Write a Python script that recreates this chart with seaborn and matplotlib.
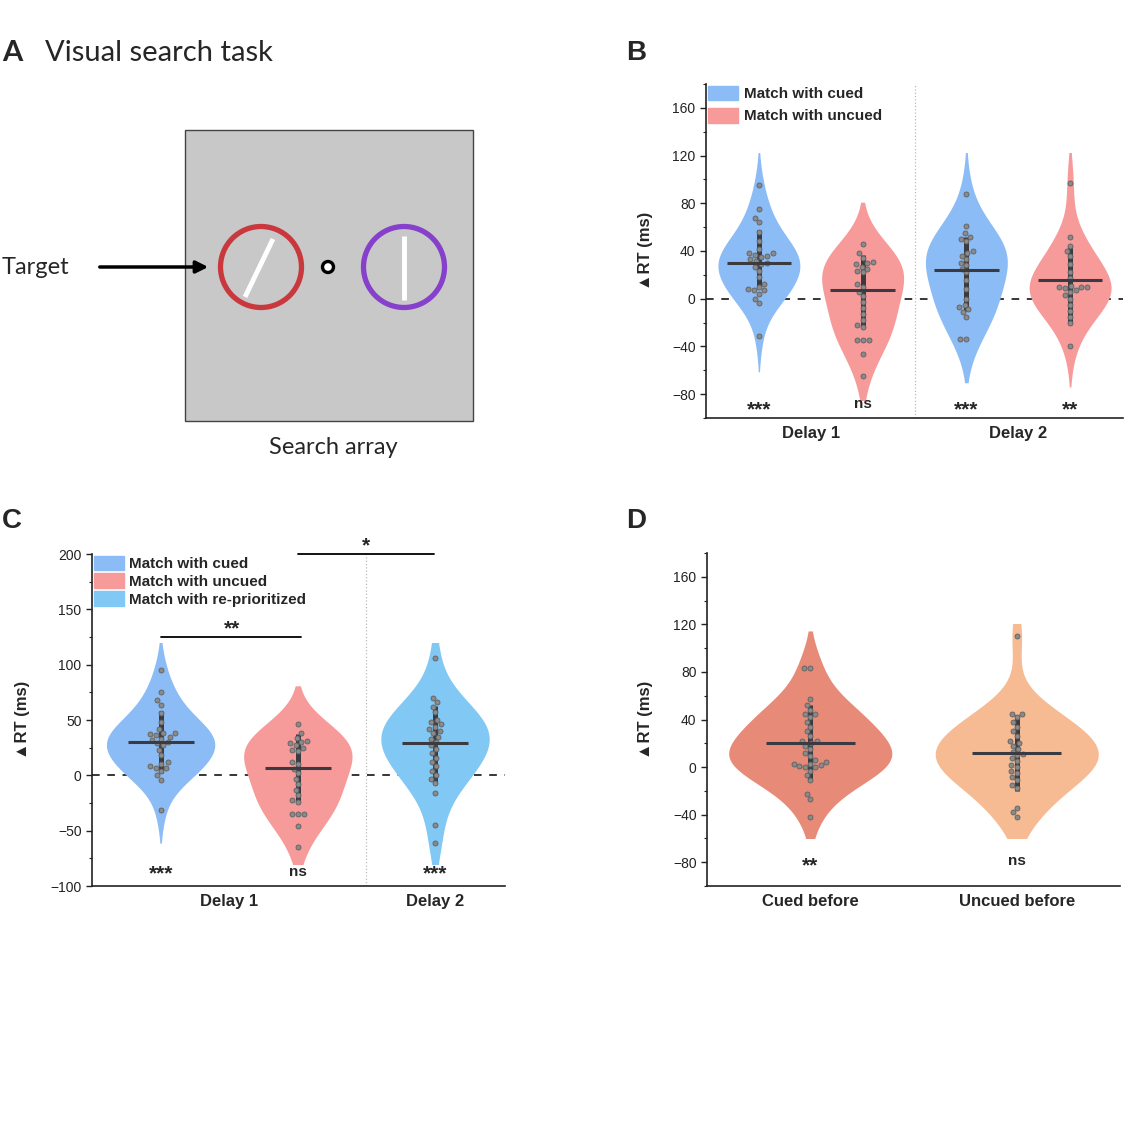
import numpy as np
import pandas as pd
import matplotlib
matplotlib.use('Agg')
import matplotlib.pyplot as plt
import seaborn as sns
from matplotlib.patches import Patch, Rectangle, Circle

sns.set_style('ticks')
plt.rcParams['font.family'] = ['Liberation Sans', 'DejaVu Sans']

# ---- Panel B: delta RT per condition (ms)
b_groups = ['D1 cued', 'D1 uncued', 'D2 cued', 'D2 uncued']
d1_cued = [95, 75, 68, 64, 56, 48, 42, 38, 38, 37, 36, 35, 33, 32, 30, 29, 27, 23, 18, 12, 10, 8, 7, 7, 4, 0, -4, -31]
d1_uncued = [46, 38, 34, 31, 30, 29, 27, 25, 23, 22, 12, 10, 6, 2, -3, -8, -13, -18, -22, -24, -35, -35, -35, -46, -65]
d2_cued = [88, 61, 55, 52, 50, 48, 40, 38, 36, 33, 30, 28, 25, 22, 16, 8, 0, -5, -7, -9, -11, -15, -34, -34]
d2_uncued = [97, 52, 44, 40, 36, 29, 22, 17, 11, 10, 10, 10, 9, 7, 6, 3, 0, -5, -10, -15, -20, -40]
b_means = [30, 7, 24, 16]
b_bar_lo = [10, -24, -10, -20]
b_bar_hi = [58, 37, 52, 44]
b_sig = ['***', 'ns', '***', '**']
b_sig_y = [-93, -88, -93, -93]
b_xlabels = ['Delay 1', 'Delay 2']

# ---- Panel C
c_groups = ['cued', 'uncued', 're-prioritized']
d2_reprio = [106, 70, 66, 62, 57, 50, 48, 46, 44, 42, 40, 38, 35, 33, 30, 27, 24, 20, 16, 12, 8, 4, 0, -3, -7, -16, -45, -61]
c_means = [30, 7, 29]
c_bar_lo = [2, -24, -7]
c_bar_hi = [58, 37, 63]
c_sig = ['***', 'ns', '***']
c_sig_y = [-89, -87, -89]
c_xlabels = ['Delay 1', 'Delay 2']

# ---- Panel D
d_groups = ['Cued before', 'Uncued before']
cued_before = [83, 83, 57, 52, 48, 45, 45, 42, 38, 34, 30, 26, 22, 22, 20, 18, 15, 12, 9, 6, 4, 3, 3, 2, 1, 0, 0, -3, -7, -11, -23, -27, -42]
uncued_before = [110, 45, 45, 42, 38, 34, 30, 26, 22, 20, 18, 15, 13, 11, 10, 8, 5, 2, 0, -3, -5, -8, -11, -15, -18, -34, -38, -42]
d_means = [20, 12]
d_bar_lo = [-12, -20]
d_bar_hi = [52, 44]
d_sig = ['**', 'ns']
d_sig_y = [-83, -79]

blue = '#8cbcf5'
pink = '#f79a9a'
sky = '#82c8f5'
salmon = '#e88a78'
peach = '#f7bb94'
dark = '#3a3a40'


def violin_panel(ax, groups, values, colors, means, lo, hi, sig, sig_y, half, clip):
    df = pd.DataFrame({'group': np.repeat(groups, [len(v) for v in values]),
                       'value': np.concatenate(values)})
    sns.violinplot(data=df, x='group', y='value', hue='group', order=groups, hue_order=groups,
                   palette=colors, legend=False, inner=None, linewidth=0, width=0.79,
                   density_norm='width', saturation=1, cut=1.7, bw_adjust=1.3, dodge=False, ax=ax)
    rect = Rectangle((-1, clip[0]), 10, clip[1] - clip[0], transform=ax.transData)
    for coll in ax.collections:
        coll.set_clip_path(rect)
    pos = np.arange(len(groups))
    ax.vlines(pos, lo, hi, color=dark, lw=3.6, zorder=3)
    sns.swarmplot(data=df, x='group', y='value', order=groups, color='#8a8a8a',
                  edgecolor='#606060', linewidth=0.6, size=3.6, ax=ax, zorder=4, warn_thresh=1)
    ax.hlines(means, pos - half, pos + half, color=dark, lw=2.2, zorder=5)
    for i, s in enumerate(sig):
        fs = 15 if s.startswith('*') else 11
        ax.text(i, sig_y[i], s, ha='center', va='center', fontweight='bold', fontsize=fs, zorder=6)


def style_axis(ax, ylim, major, minor):
    ax.set_ylim(*ylim)
    ax.yaxis.set_major_locator(matplotlib.ticker.MultipleLocator(major))
    ax.yaxis.set_minor_locator(matplotlib.ticker.MultipleLocator(minor))
    sns.despine(ax=ax)
    for sp in ['left', 'bottom']:
        ax.spines[sp].set_linewidth(1.2)
        ax.spines[sp].set_color('#222222')
    ax.tick_params(axis='y', which='major', length=4, width=1, labelsize=10, colors='#222222')
    ax.tick_params(axis='y', which='minor', length=2.5, width=0.8, color='#222222')
    ax.tick_params(axis='x', length=0, labelsize=12, pad=6)
    for lab in ax.get_xticklabels():
        lab.set_fontweight('bold')
    ax.set_xlabel('')
    ax.set_ylabel('▲RT (ms)', fontsize=12, fontweight='bold')


fig = plt.figure(figsize=(11.25, 11.25), dpi=100)

# ---- Panel A (schematic) and panel letters, in pixel coordinates
axA = fig.add_axes([0, 0, 1, 1], zorder=-1)
axA.set_xlim(0, 1125)
axA.set_ylim(1125, 0)
axA.axis('off')
axA.add_patch(Rectangle((185, 130), 288, 291, facecolor='#c8c8c8', edgecolor='#444444', lw=1))
axA.add_patch(Circle((261, 267), 40.5, fill=False, ec='#c9383c', lw=3.8))
axA.add_patch(Circle((404, 267), 40.5, fill=False, ec='#8640cc', lw=3.8))
axA.plot([245, 273], [297, 239], color='white', lw=3.5, solid_capstyle='butt')
axA.plot([404, 404], [236, 300], color='white', lw=3.5, solid_capstyle='butt')
axA.add_patch(Circle((328, 267), 5.5, fc='white', ec='black', lw=2.4))
axA.annotate('', xy=(211, 267), xytext=(97, 267),
             arrowprops=dict(arrowstyle='-|>', lw=2.5, color='black', mutation_scale=18))
axA.text(2, 268, 'Target', fontsize=17, family='Lato', ha='left', va='center')
axA.text(333, 447, 'Search array', fontsize=17, family='Lato', ha='center', va='center')
axA.text(2, 53, 'A', fontsize=21, family='Lato', fontweight='bold', ha='left', va='center')
axA.text(45, 53, 'Visual search task', fontsize=21, family='Lato', ha='left', va='center')
axA.text(626, 53, 'B', fontsize=20, fontweight='bold', ha='left', va='center')
axA.text(2, 521, 'C', fontsize=20, fontweight='bold', ha='left', va='center')
axA.text(626, 521, 'D', fontsize=20, fontweight='bold', ha='left', va='center')

# ---- Panel B
axB = fig.add_axes([706 / 1125, 1 - 418 / 1125, 417 / 1125, 334 / 1125])
axB.axhline(0, ls=(0, (5, 5)), color='black', lw=1.1, zorder=0)
axB.axvline(1.5, ls=':', color='#bbbbbb', lw=0.9, zorder=0)
violin_panel(axB, b_groups, [d1_cued, d1_uncued, d2_cued, d2_uncued], [blue, pink, blue, pink],
             b_means, b_bar_lo, b_bar_hi, b_sig, b_sig_y, 0.31, (-85, 122))
axB.set_xlim(-0.51, 3.51)
axB.set_xticks([0.5, 2.5], b_xlabels)
style_axis(axB, (-100, 180), 40, 20)
axB.yaxis.set_label_coords(-0.127, 0.5)
axB.legend(handles=[Patch(color=blue, label='Match with cued'), Patch(color=pink, label='Match with uncued')],
           loc='upper left', bbox_to_anchor=(0.0, 1.0), frameon=False, borderaxespad=0, borderpad=0.1,
           handlelength=2.0, handleheight=1.1, handletextpad=0.4, labelspacing=0.45,
           prop={'weight': 'bold', 'size': 11})

# ---- Panel C
axC = fig.add_axes([92 / 1125, 1 - 886 / 1125, 413 / 1125, 332 / 1125])
axC.axhline(0, ls=(0, (5, 5)), color='black', lw=1.1, zorder=0)
axC.axvline(1.5, ls=':', color='#bbbbbb', lw=0.9, zorder=0)
violin_panel(axC, c_groups, [d1_cued, d1_uncued, d2_reprio], [blue, pink, sky],
             c_means, c_bar_lo, c_bar_hi, c_sig, c_sig_y, 0.24, (-80, 120))
axC.set_xlim(-0.5, 2.51)
axC.set_xticks([0.5, 2], c_xlabels)
style_axis(axC, (-100, 200), 50, 25)
axC.yaxis.set_label_coords(-0.15, 0.5)
axC.plot([0, 1.02], [125, 125], color='black', lw=1.3, clip_on=False)
axC.text(0.52, 124, '**', ha='center', va='bottom', fontweight='bold', fontsize=15)
axC.plot([1.0, 1.99], [200, 200], color='black', lw=1.3, clip_on=False)
axC.text(1.5, 199, '*', ha='center', va='bottom', fontweight='bold', fontsize=15)
axC.legend(handles=[Patch(color=blue, label='Match with cued'), Patch(color=pink, label='Match with uncued'),
                    Patch(color=sky, label='Match with re-prioritized')],
           loc='upper left', bbox_to_anchor=(0.0, 1.0), frameon=False, borderaxespad=0, borderpad=0.1,
           handlelength=2.0, handleheight=1.1, handletextpad=0.3, labelspacing=0.15,
           prop={'weight': 'bold', 'size': 11})

# ---- Panel D
axD = fig.add_axes([707 / 1125, 1 - 886 / 1125, 413 / 1125, 333 / 1125])
violin_panel(axD, d_groups, [cued_before, uncued_before], [salmon, peach],
             d_means, d_bar_lo, d_bar_hi, d_sig, d_sig_y, 0.215, (-60, 120))
axD.set_xlim(-0.5, 1.5)
axD.set_xticks([0, 1], d_groups)
style_axis(axD, (-100, 180), 40, 20)
axD.yaxis.set_label_coords(-0.131, 0.5)

fig.savefig('out.png', dpi=100)
